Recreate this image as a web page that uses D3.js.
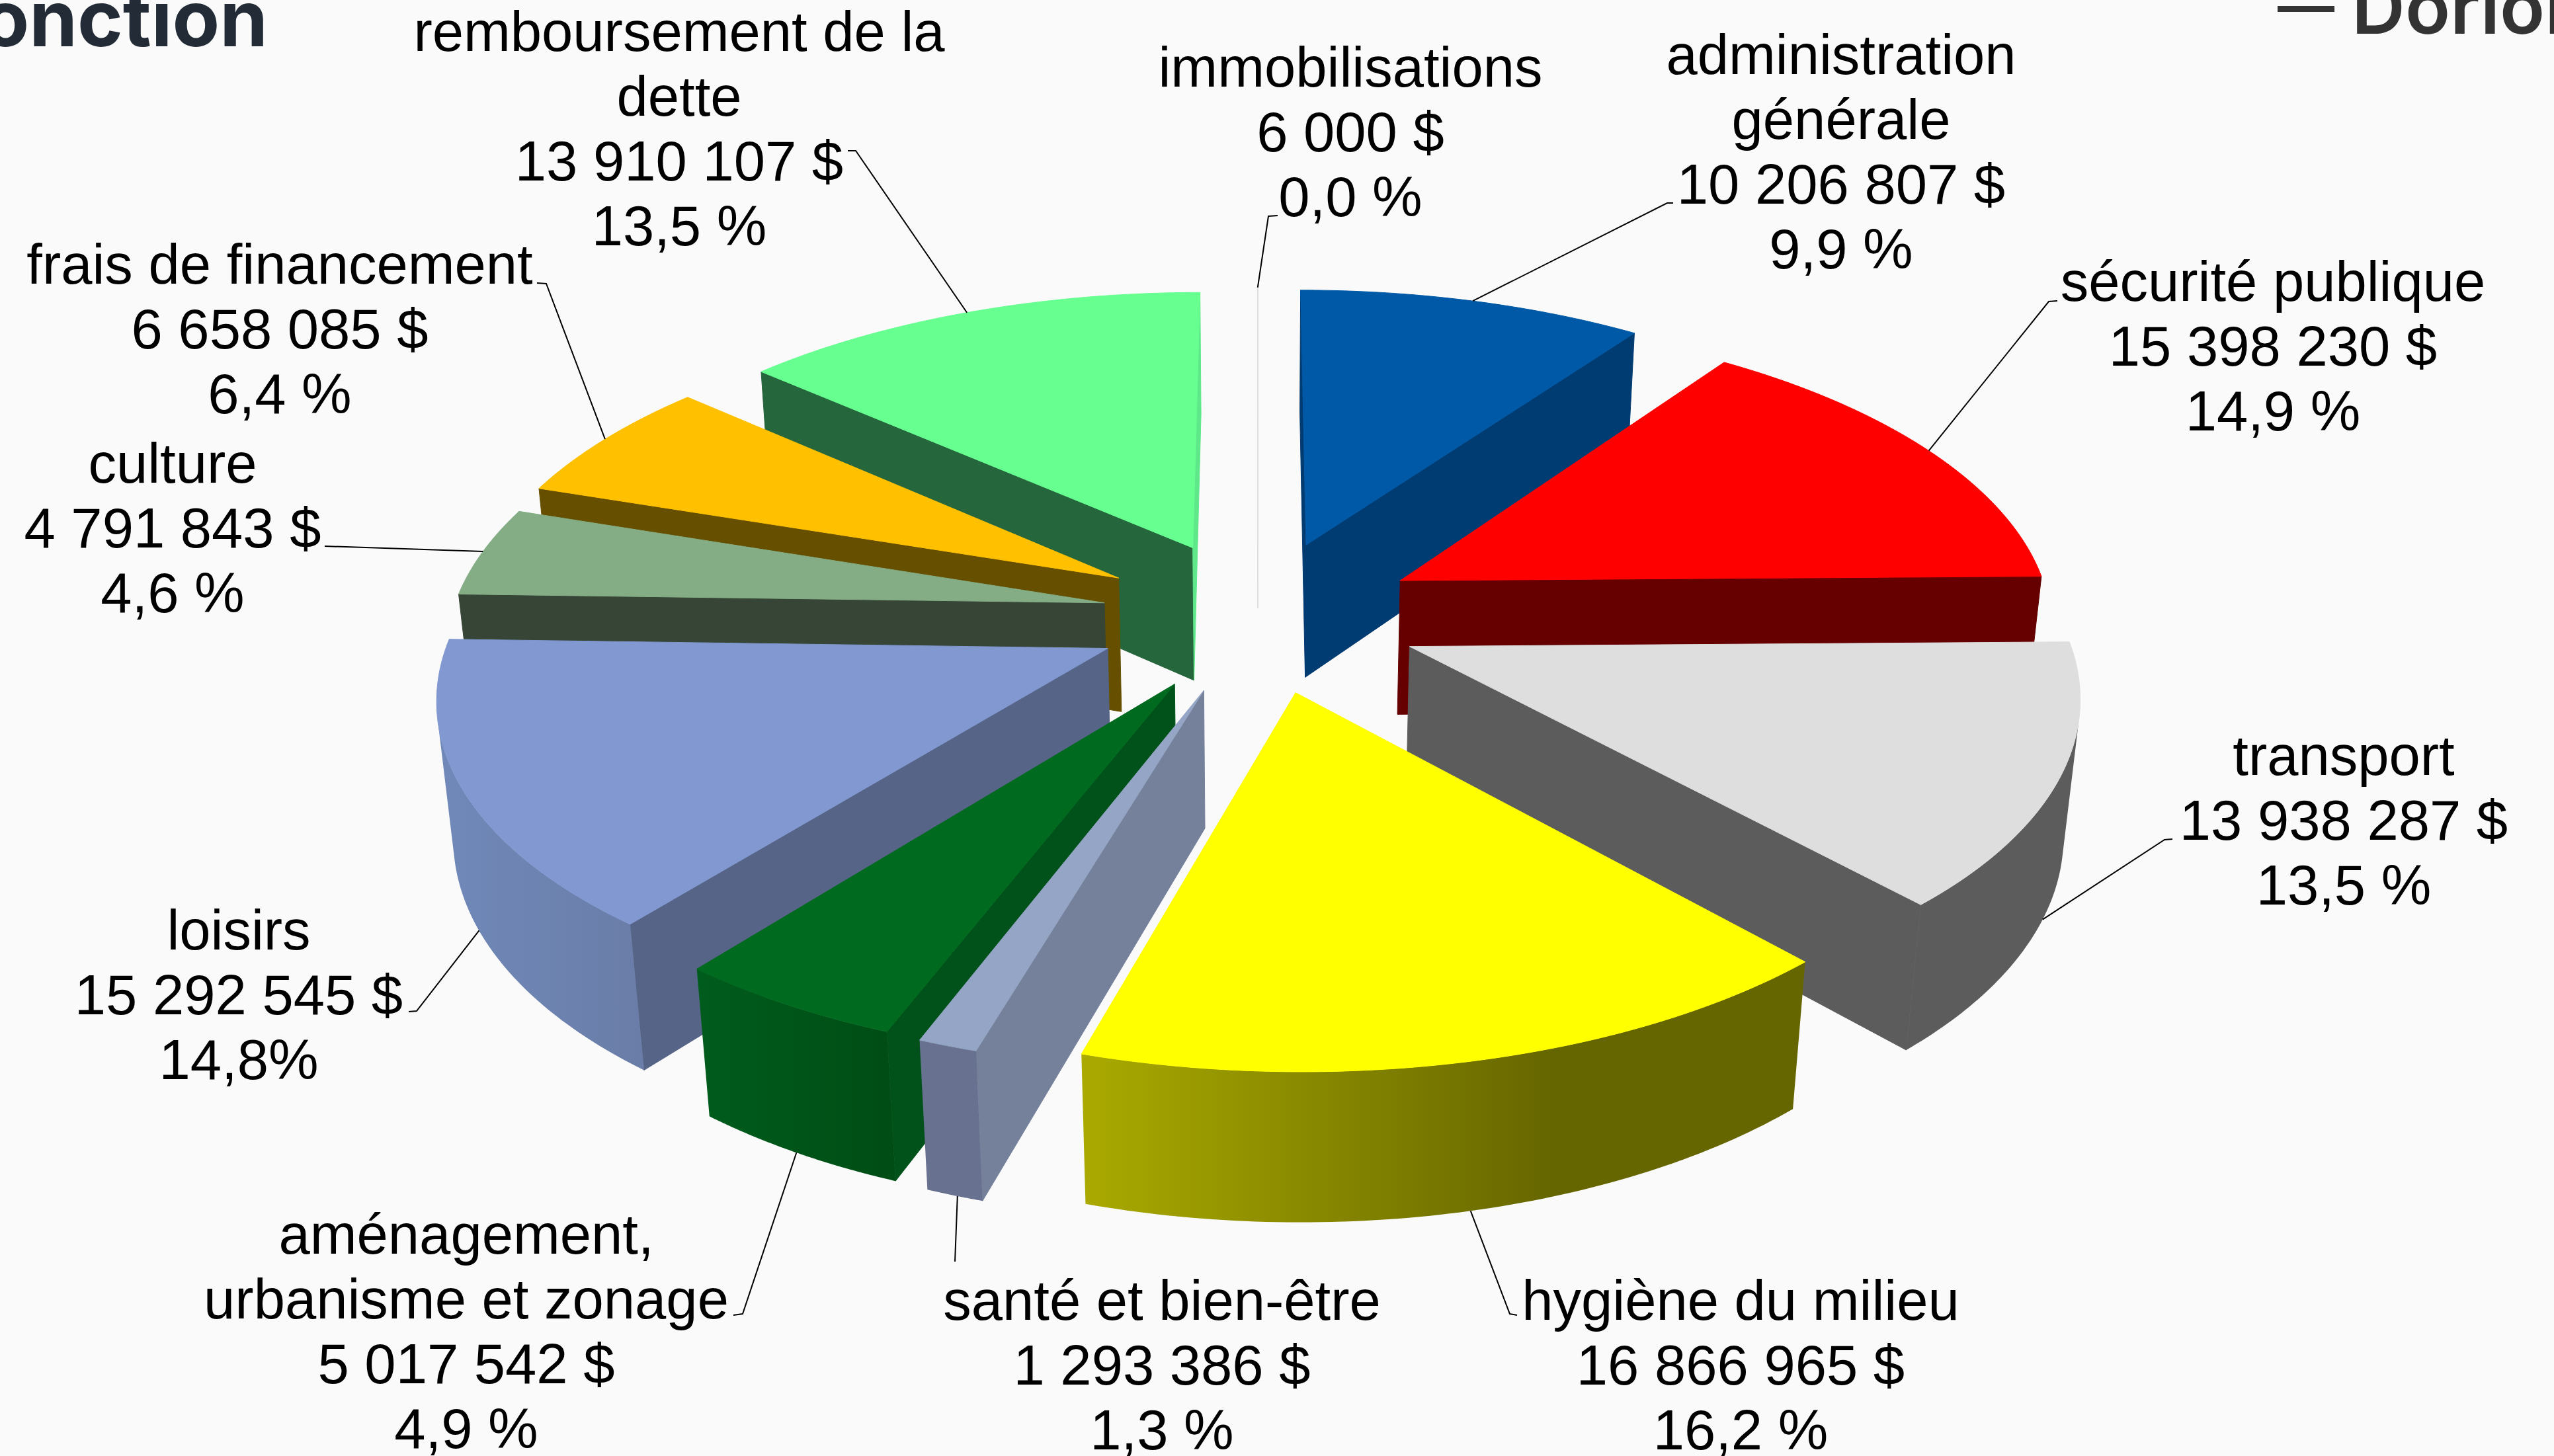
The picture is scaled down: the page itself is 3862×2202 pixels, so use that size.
<!DOCTYPE html>
<html>
<head>
<meta charset="utf-8">
<script src="https://cdn.jsdelivr.net/npm/d3@7"></script>
<style>
  html, body { margin: 0; padding: 0; background: #fafafa; overflow: hidden; }
  svg { display: block; }
</style>
</head>
<body>
<div id="chart"></div>
<script>
// data
const categories = [
  ["administration", "générale"],
  ["sécurité publique"],
  ["transport"],
  ["hygiène du milieu"],
  ["santé et bien-être"],
  ["aménagement,", "urbanisme et zonage"],
  ["loisirs"],
  ["culture"],
  ["frais de financement"],
  ["remboursement de la", "dette"],
  ["immobilisations"]
];
const amounts = [10206807, 15398230, 13938287, 16866965, 1293386, 5017542, 15292545, 4791843, 6658085, 13910107, 6000];
const percentLabels = ["9,9 %", "14,9 %", "13,5 %", "16,2 %", "1,3 %", "4,9 %", "14,8%", "4,6 %", "6,4 %", "13,5 %", "0,0 %"];

// colours, same order as categories
const topColors  = ["#0059a6", "#ff0000", "#dedede", "#ffff00", "#95a5c5", "#006a1f", "#8198d0", "#84ad86", "#ffc000", "#66ff90", "#dddddd"];
const sideColors = ["#003b72", "#660000", "#5c5c5c", "#666600", "#75809b", "#00521a", "#566587", "#364536", "#665000", "#26663c", "#dddddd"];
const wallColors = [
  ["#003b72", "#003b72"], ["#660000", "#660000"], ["#5c5c5c", "#5c5c5c"], ["#aaaa00", "#666600"],
  ["#68718f", "#68718f"], ["#005c1c", "#004d15"], ["#7089b9", "#6a7da8"], ["#364536", "#364536"],
  ["#665000", "#665000"], ["#26663c", "#26663c"], ["#dddddd", "#dddddd"]
];
const endFaceColors = sideColors.map((c, i) => i === 9 ? "#5fe88a" : c);

// label layout: centre x, first baseline, leader start and elbow, where the leader touches the slice
const labelX = [2784, 3437, 3544, 2632, 1757, 705, 361, 261, 423, 1027, 2042];
const labelY = [112, 455, 1172, 1996, 1996, 1896, 1436, 730, 429, 77, 131];
const leaderFrom = [[2530, 307], [3111, 455], [3285, 1269], [2294, 1989], [1444, 1908], [1109, 1989], [618, 1530], [491, 826], [812, 428], [1282, 228], [1932, 326]];
const leaderElbow = [[2521, 307], [3098, 456], [3273, 1270], [2283, 1987], [1444, 1908], [1123, 1987], [630, 1529], [491, 826], [826, 429], [1294, 228], [1918, 327]];
const leaderOnBottom = [false, false, true, true, true, true, true, false, false, false, false];
const leaderAt = [0.5, 0.5, 0.5, 0.5, 0.45, 0.5, 0.5, 0.5, 0.5, 0.5, 0.5];

const width = 3862;
const height = 2202;
const explode = [0.25, 0.25, 0.25, 0.25, 0.25, 0.25, 0.25, 0.24, 0.25, 0.25, 0.25]; // how far slices are pulled out, in radii
const faceDepth = [1, 1, 1, 1, 1, 1, 1, 1, 1, 1, 0.5];
const perspective = 0.133;
const thickness = 0.45;   // pie depth, in radii
const depthShrink = 0.02;

const svg = d3.select("#chart").append("svg")
  .attr("width", width)
  .attr("height", height);

svg.append("rect")
  .attr("width", width)
  .attr("height", height)
  .attr("fill", "#fafafa");

// screen scales for the flattened pie
const x = d3.scaleLinear().domain([-1, 1]).range([1902 - 987, 1902 + 987]);
const y = d3.scaleLinear().domain([-1, 1]).range([931 - 463, 931 + 463]);

// u is right, v is towards the viewer, z is 0 on the top face and 1 on the bottom
function project(u, v, z) {
  const w = 1 - perspective * v + depthShrink * z;
  return [x(u / w), y((v + thickness * z) / w)];
}

const pie = d3.pie().sort(null).value(d => d);
const arcs = pie(amounts).map((a, i) => {
  const mid = (a.startAngle + a.endAngle) / 2;
  return {
    i: i,
    a0: a.startAngle,
    a1: a.endAngle,
    mid: mid,
    du: explode[i] * Math.sin(mid),
    dv: -explode[i] * Math.cos(mid)
  };
});

function rimPoint(s, t, z) {
  return project(s.du + Math.sin(t), s.dv - Math.cos(t), z);
}
function apexPoint(s, z) {
  return project(s.du, s.dv, z);
}
// a side face is only drawn when it turns towards the camera
function facesCamera(quad) {
  return d3.polygonArea(quad) > 0;
}

const line = d3.line();
const closed = pts => line(pts) + "Z";
const defs = svg.append("defs");
const pieGroup = svg.append("g");

// painter's order, back slices first
const ordered = arcs.slice().sort((p, q) => Math.cos(q.mid) - Math.cos(p.mid));

ordered.forEach(s => {
  const g = pieGroup.append("g").attr("class", "slice");
  const n = 72;
  const angles = d3.range(n + 1).map(k => s.a0 + (s.a1 - s.a0) * k / n);
  const zb = faceDepth[s.i];

  // radial faces
  const faces = [
    { pts: [apexPoint(s, 0), rimPoint(s, s.a0, 0), rimPoint(s, s.a0, zb), apexPoint(s, zb)], color: sideColors[s.i] },
    { pts: [rimPoint(s, s.a1, 0), apexPoint(s, 0), apexPoint(s, zb), rimPoint(s, s.a1, zb)], color: endFaceColors[s.i] }
  ];
  faces.filter(f => facesCamera(f.pts)).forEach(f => {
    g.append("path")
      .attr("d", closed(f.pts))
      .attr("fill", f.color)
      .attr("stroke", f.color)
      .attr("stroke-width", 1);
  });

  // outer wall, only the part that is visible
  const visible = [];
  for (let k = 0; k < n; k++) {
    const quad = [rimPoint(s, angles[k], 0), rimPoint(s, angles[k + 1], 0), rimPoint(s, angles[k + 1], 1), rimPoint(s, angles[k], 1)];
    if (facesCamera(quad)) {
      if (!visible.length) visible.push(angles[k]);
      visible.push(angles[k + 1]);
    }
  }
  if (visible.length > 1) {
    const wall = visible.map(t => rimPoint(s, t, 0)).concat(visible.slice().reverse().map(t => rimPoint(s, t, 1)));
    const xs = d3.extent(wall, d => d[0]);
    const gradId = "wall" + s.i;
    const grad = defs.append("linearGradient")
      .attr("id", gradId)
      .attr("gradientUnits", "userSpaceOnUse")
      .attr("x1", xs[0]).attr("x2", xs[1]).attr("y1", 0).attr("y2", 0);
    grad.append("stop").attr("offset", 0).attr("stop-color", wallColors[s.i][0]);
    grad.append("stop").attr("offset", s.i === 3 ? 0.65 : 1).attr("stop-color", wallColors[s.i][1]);
    g.append("path")
      .attr("d", closed(wall))
      .attr("fill", "url(#" + gradId + ")");
  }

  // top face
  const top = [apexPoint(s, 0)].concat(angles.map(t => rimPoint(s, t, 0)));
  g.append("path")
    .attr("d", closed(top))
    .attr("fill", topColors[s.i])
    .attr("stroke", topColors[s.i])
    .attr("stroke-width", 1);
});

// leaders
const leaders = svg.append("g")
  .attr("fill", "none")
  .attr("stroke", "#000")
  .attr("stroke-width", 2);
arcs.forEach(s => {
  const t = s.a0 + (s.a1 - s.a0) * leaderAt[s.i];
  const tip = rimPoint(s, t, leaderOnBottom[s.i] ? 1 : 0);
  leaders.append("path").attr("d", line([leaderFrom[s.i], leaderElbow[s.i], tip]));
});

// labels
const money = d3.formatLocale({ decimal: ",", thousands: " ", grouping: [3], currency: ["", " $"] }).format("$,d");
const labels = svg.append("g")
  .attr("font-family", "'Liberation Sans', Arial, sans-serif")
  .attr("font-size", 85)
  .attr("fill", "#000")
  .attr("text-anchor", "middle");
arcs.forEach(s => {
  const lines = categories[s.i].concat([money(amounts[s.i]), percentLabels[s.i]]);
  const t = labels.append("text")
    .attr("x", labelX[s.i])
    .attr("y", labelY[s.i]);
  t.selectAll("tspan")
    .data(lines)
    .enter()
    .append("tspan")
    .attr("x", labelX[s.i])
    .attr("dy", (d, j) => j === 0 ? 0 : 98)
    .text(d => d);
});

// slide title pieces cropped by the picture edge
svg.append("text")
  .attr("x", 405)
  .attr("y", 70)
  .attr("text-anchor", "end")
  .attr("font-family", "Inter, sans-serif")
  .attr("font-weight", 700)
  .attr("font-size", 117)
  .attr("fill", "#222b36")
  .text("onction");

svg.append("text")
  .attr("x", 3444)
  .attr("y", 40)
  .attr("font-family", "Inter, sans-serif")
  .attr("font-weight", 600)
  .attr("font-size", 86)
  .attr("fill", "#333333")
  .text("—");

svg.append("text")
  .attr("x", 3556)
  .attr("y", 51)
  .attr("font-family", "Inter, sans-serif")
  .attr("font-weight", 600)
  .attr("font-size", 112)
  .attr("fill", "#333333")
  .text("Dorion");
</script>
</body>
</html>
